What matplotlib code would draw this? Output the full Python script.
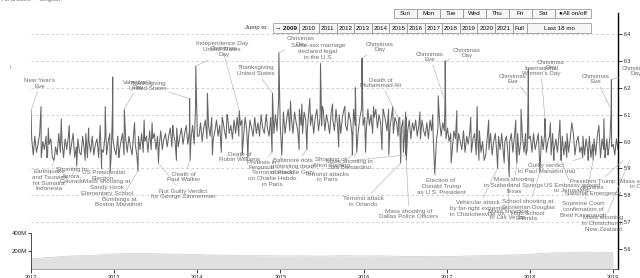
import numpy as np
import pandas as pd
import matplotlib
matplotlib.use('Agg')
import matplotlib.pyplot as plt
import matplotlib.dates as mdates
from matplotlib.patches import Rectangle

W, H = 640, 278
plt.rcParams['font.family'] = ['Liberation Sans', 'DejaVu Sans']

# ---------------- data ----------------
base_start = '2012-01-04'
base_2012 = [6.01, 5.95, 6.02, 5.96, 5.99, 6.03, 5.94, 6.00, 5.97, 6.02, 5.95, 5.99, 6.01, 5.94, 6.02, 5.98, 5.95, 6.03,
             5.96, 6.00, 5.94, 6.01, 5.97, 6.02, 5.95, 5.99, 6.03, 5.94, 5.98, 6.01, 5.96, 5.95, 6.02, 5.97, 6.03, 5.94,
             6.00, 5.96, 6.02, 5.95, 5.99, 6.01, 5.94, 6.03, 5.97, 5.96, 6.02, 5.95, 6.00, 6.03, 5.96, 6.01, 5.97]
base_2013 = [5.95, 6.02, 5.96, 6.00, 6.03, 5.95, 6.01, 5.96, 6.02, 5.98, 5.95, 6.03, 5.99, 5.95, 6.02, 5.97, 6.03, 5.96,
             6.00, 6.02, 5.96, 6.04, 5.97, 6.01, 6.03, 5.97, 6.02, 5.98, 6.04, 5.97, 6.01, 6.03, 5.98, 6.02, 6.05, 5.98,
             6.03, 6.00, 6.05, 5.98, 6.02, 6.05, 5.99, 6.03, 6.06, 5.99, 6.04, 6.01, 6.06, 5.99, 6.03, 6.02]
base_2014 = [6.02, 6.07, 6.00, 6.05, 6.08, 6.01, 6.06, 6.02, 6.09, 6.01, 6.04, 6.08, 6.02, 6.06, 6.00, 6.08, 6.04, 6.01,
             6.09, 6.03, 6.06, 6.01, 6.08, 6.03, 6.09, 6.02, 6.06, 6.08, 6.02, 6.09, 6.04, 6.01, 6.08, 6.05, 6.02, 6.09,
             6.03, 6.07, 6.02, 6.10, 6.05, 6.03, 6.09, 6.05, 6.02, 6.09, 6.06, 6.03, 6.10, 6.04, 6.08, 6.06]
base_2015 = [6.05, 6.11, 6.03, 6.08, 6.12, 6.04, 6.09, 6.03, 6.11, 6.07, 6.04, 6.12, 6.06, 6.03, 6.11, 6.08, 6.04, 6.12,
             6.06, 6.10, 6.03, 6.09, 6.12, 6.04, 6.09, 6.06, 6.12, 6.04, 6.10, 6.07, 6.03, 6.11, 6.08, 6.04, 6.12, 6.06,
             6.10, 6.03, 6.09, 6.12, 6.06, 6.04, 6.11, 6.08, 6.03, 6.12, 6.06, 6.10, 6.04, 6.09, 6.12, 6.06]
base_2016 = [6.09, 6.04, 6.12, 6.06, 6.10, 6.03, 6.09, 6.12, 6.05, 6.10, 6.07, 6.03, 6.11, 6.08, 6.04, 6.12, 6.06, 6.10,
             6.03, 6.09, 6.07, 6.02, 6.09, 6.05, 6.08, 6.02, 6.09, 6.04, 6.08, 6.01, 6.07, 6.04, 6.08, 6.02, 6.06, 6.01,
             6.08, 6.04, 6.02, 6.07, 6.01, 6.08, 6.04, 6.02, 6.07, 6.00, 6.05, 6.08, 6.02, 6.07, 6.04, 6.01]
base_2017 = [6.05, 6.00, 6.03, 5.97, 6.04, 6.01, 5.96, 6.03, 6.00, 5.97, 6.04, 5.96, 6.02, 5.99, 6.04, 5.96, 6.01, 6.03,
             5.95, 6.01, 6.04, 5.96, 6.00, 6.03, 5.95, 6.02, 5.97, 6.03, 5.95, 6.00, 6.03, 5.95, 6.02, 5.97, 6.03, 5.96,
             6.00, 6.02, 5.95, 6.00, 6.03, 5.96, 6.02, 5.97, 6.03, 5.95, 6.00, 6.02, 5.96, 6.03, 5.97, 6.01]
base_2018 = [6.02, 5.96, 6.03, 5.97, 6.00, 6.03, 5.95, 6.02, 5.97, 6.03, 5.96, 6.00, 6.02, 5.95, 6.03, 5.97, 6.01, 5.96,
             6.03, 5.97, 6.02, 5.95, 6.00, 6.03, 5.96, 6.01, 5.97, 6.03, 5.95, 6.00, 6.02, 5.96, 5.98, 6.02, 5.95, 6.01,
             5.96, 6.02, 5.94, 5.99, 6.01, 5.95, 6.02, 5.96, 5.94, 6.01, 5.97, 5.95, 6.01, 5.96, 6.02, 5.98]
base_2019 = [5.99, 5.95, 6.01, 5.97]

spike_dates = ['2012-01-01', '2012-02-14', '2012-03-17', '2012-05-13', '2012-06-17', '2012-09-10', '2012-10-31',
               '2012-11-22', '2012-12-24', '2012-12-25', '2013-02-14', '2013-03-31', '2013-05-12', '2013-06-16',
               '2013-09-15', '2013-11-28', '2013-12-24', '2013-12-25', '2014-02-14', '2014-04-20', '2014-05-11',
               '2014-07-04', '2014-10-31', '2014-11-27', '2014-12-24', '2014-12-25', '2015-02-14', '2015-04-05',
               '2015-05-10', '2015-06-26', '2015-07-04', '2015-08-18', '2015-10-11', '2015-11-26', '2015-12-24',
               '2015-12-25', '2016-02-14', '2016-03-27', '2016-05-08', '2016-06-03', '2016-07-04', '2016-09-05',
               '2016-10-31', '2016-11-24', '2016-12-24', '2016-12-25', '2017-02-14', '2017-04-16', '2017-05-14',
               '2017-07-04', '2017-10-31', '2017-11-23', '2017-12-24', '2017-12-25', '2018-03-08', '2018-04-01',
               '2018-05-13', '2018-07-04', '2018-10-31', '2018-11-22', '2018-12-24', '2018-12-25']
spike_values = [6.115, 6.13, 6.05, 6.085, 6.06, 6.05, 6.06,
                6.13, 6.12, 6.24, 6.12, 6.07, 6.08, 6.07,
                6.06, 6.16, 6.13, 6.28, 6.18, 6.09, 6.10,
                6.115, 6.10, 6.18, 6.16, 6.33, 6.15, 6.14,
                6.16, 6.29, 6.13, 6.14, 6.13, 6.20, 6.16,
                6.31, 6.13, 6.12, 6.13, 6.085, 6.11, 6.11,
                6.10, 6.17, 6.15, 6.30, 6.115, 6.09, 6.13,
                6.08, 6.08, 6.12, 6.17, 6.27, 6.085, 6.07,
                6.08, 6.07, 6.06, 6.085, 6.12, 6.23]

dip_dates = ['2012-03-11', '2012-04-11', '2012-07-20', '2012-08-26', '2012-11-06', '2012-12-14', '2013-01-21',
             '2013-04-15', '2013-07-14', '2013-10-01', '2013-11-30', '2014-03-08', '2014-04-16', '2014-07-17',
             '2014-08-11', '2014-11-25', '2015-01-07', '2015-03-24', '2015-04-27', '2015-09-14', '2015-11-13',
             '2015-12-02', '2016-01-10', '2016-03-22', '2016-04-21', '2016-06-12', '2016-06-24', '2016-07-05',
             '2016-07-07', '2016-11-09', '2017-01-20', '2017-05-22', '2017-06-14', '2017-08-12', '2017-09-10',
             '2017-10-02', '2017-11-05', '2017-12-15', '2018-02-14', '2018-04-16', '2018-05-18', '2018-06-12',
             '2018-08-21', '2018-09-14', '2018-10-06', '2018-11-06', '2018-11-27', '2018-12-10']
dip_values = [5.94, 5.93, 5.91, 5.93, 5.90, 5.89, 5.94,
              5.89, 5.92, 5.93, 5.93, 5.95, 5.96, 5.95,
              5.94, 5.96, 5.95, 5.97, 5.97, 5.98, 5.95,
              5.96, 5.96, 5.97, 5.95, 5.92, 5.96, 5.95,
              5.93, 5.88, 5.92, 5.93, 5.93, 5.90, 5.92,
              5.87, 5.92, 5.95, 5.89, 5.93, 5.93, 5.94,
              5.94, 5.93, 5.93, 5.95, 5.94, 5.95]

vol_start = '2012-01-01'
vol_millions = [112, 118, 125, 130, 138, 142, 145, 148, 150, 152, 158, 165,
                168, 170, 172, 175, 174, 172, 170, 168, 166, 165, 164, 162,
                160, 158, 156, 155, 154, 152, 150, 150, 149, 148, 148, 147,
                146, 145, 146, 147, 145, 144, 143, 145, 146, 148, 147, 146,
                145, 146, 147, 145, 144, 142, 140, 139, 140, 141, 142, 140,
                138, 140, 142, 144, 146, 148, 150, 152, 154, 156, 158, 160,
                165, 170, 174, 178, 180, 182, 184, 186, 188, 186, 185, 184,
                186]

year_labels = ['2012', '2013', '2014', '2015', '2016', '2017', '2018', '2019']
right_ticks = [5.6, 5.7, 5.8, 5.9, 6.0, 6.1, 6.2, 6.3, 6.4]
vol_ticks = [200e6, 400e6]
vol_tick_labels = ['200M', '400M']

day_buttons = ['Sun', 'Mon', 'Tue', 'Wed', 'Thu', 'Fri', 'Sat', '\u25cfAll on/off']
year_buttons = ['\u2192 2009', '2010', '2011', '2012', '2013', '2014', '2015', '2016', '2017', '2018', '2019',
                '2020', '2021', 'Full', 'Last 18 mo']

# label text, centre x (px), first-line y (px), target date
annotations = [
    ("New Year's\nEve", 40, 82, '2012-01-01'),
    ("Valentine's\nDay", 138, 83, '2013-02-14'),
    ("Thanksgiving\nUnited States", 148, 84, '2013-11-28'),
    ("Independence Day\nUnited States", 222, 45, '2014-07-04'),
    ("Christmas\nDay", 224, 50, '2013-12-25'),
    ("Thanksgiving\nUnited States", 256, 69, '2014-11-27'),
    ("Christmas\nDay", 301, 40, '2014-12-25'),
    ("Same-sex marriage\ndeclared legal\nin the U.S.", 318, 47, '2015-06-26'),
    ("Christmas\nDay", 380, 45, '2015-12-25'),
    ("Death of\nMuhammad Ali", 381, 81, '2016-06-03'),
    ("Christmas\nEve", 430, 55, '2016-12-24'),
    ("Christmas\nDay", 467, 51, '2016-12-25'),
    ("Christmas\nEve", 513, 77, '2017-12-24'),
    ("International\nWomen's Day", 541, 69, '2018-03-08'),
    ("Christmas\nDay", 551, 63, '2017-12-25'),
    ("Christmas\nEve", 596, 77, '2018-12-24'),
    ("Christmas\nDay", 636, 69, '2018-12-25'),
    ("Earthquake\nand Tsunami\nhit Sumatra\nIndonesia", 49, 173, '2012-04-11'),
    ("Shooting in\nAurora,\nColorado", 72, 171, '2012-07-20'),
    ("US Presidential\nElection", 103, 174, '2012-11-06'),
    ("Mass shooting at\nSandy Hook\nElementary School", 107, 183, '2012-12-14'),
    ("Bombings at\nBoston Marathon", 119, 200, '2013-04-15'),
    ("Death of\nPaul Walker", 184, 175, '2013-11-30'),
    ("Not Guilty Verdict\nfor George Zimmerman", 183, 192, '2013-07-14'),
    ("Death of\nRobin Williams", 240, 155, '2014-08-11'),
    ("Protests in\nFerguson", 262, 163, '2014-11-25'),
    ("Baltimore riots\nprotesting death\nof Freddie Gray", 293, 162, '2015-04-27'),
    ("Terrorist attack\non Charlie Hebdo\nin Paris", 272, 174, '2015-01-07'),
    ("Shooting of\nAlton Sterling", 331, 161, '2016-07-05'),
    ("Mass shooting in\nSan Bernardino", 349, 163, '2015-12-02'),
    ("Terrorist attacks\nin Paris", 327, 175, '2015-11-13'),
    ("Terrorist attack\nin Orlando", 363, 200, '2016-06-12'),
    ("Mass shooting of\nDallas Police Officers", 409, 212, '2016-07-07'),
    ("Election of\nDonald Trump\nas U.S. President", 441, 182, '2016-11-09'),
    ("Vehicular attack\nby far-right extremist\nin Charlottesville VA", 478, 204, '2017-08-12'),
    ("Mass shooting\nin Las Vegas", 508, 213, '2017-10-02'),
    ("Mass shooting\nin Sutherland Springs\nTexas", 514, 181, '2017-11-05'),
    ("School shooting at\nStoneman Douglas\nHigh School\nFlorida", 528, 203, '2018-02-14'),
    ("Guilty verdict\nin Paul Manafort trial", 546, 167, '2018-08-21'),
    ("US Embassy moved\nto Jerusalem", 572, 186, '2018-05-18'),
    ("Supreme Court\nconfirmation of\nBrett Kavanaugh", 583, 205, '2018-10-06'),
    ("President Trump\ndeclares\nNational Emergency", 593, 183, '2019-02-15'),
    ("Mass shooting\nin Christchurch\nNew Zealand", 603, 219, '2019-03-15'),
    ("Mass shooting\nin Ohio", 640, 182, '2019-08-04'),
]

# ---------------- build series ----------------
base_values = base_2012 + base_2013 + base_2014 + base_2015 + base_2016 + base_2017 + base_2018 + base_2019
base = pd.Series(base_values, index=pd.date_range(base_start, periods=len(base_values), freq='7D'))
spikes = pd.Series(spike_values, index=pd.to_datetime(spike_dates))
dips = pd.Series(dip_values, index=pd.to_datetime(dip_dates))
series = pd.concat([base, spikes, dips])
series = series[~series.index.duplicated(keep='last')].sort_index()

vol = pd.Series(np.array(vol_millions) * 1e6, index=pd.date_range(vol_start, periods=len(vol_millions), freq='MS'))

# ---------------- figure ----------------
fig = plt.figure(figsize=(W / 100, H / 100), dpi=100)


def fbox(x0, y0, x1, y1):
    return [x0 / W, 1 - y1 / H, (x1 - x0) / W, (y1 - y0) / H]


xmin = mdates.date2num(pd.Timestamp('2012-01-01'))
xmax = mdates.date2num(pd.Timestamp('2019-01-23'))

ax = fig.add_axes(fbox(31, 13, 618, 269))
ax.set_xlim(xmin, xmax)
ax.set_ylim(5.526, 6.478)
ax.patch.set_alpha(0)

for v in right_ticks:
    if v >= 5.7:
        ax.axhline(v, color='#c8c8c8', lw=0.6, ls=(0, (3, 3)), zorder=0)

ax.plot(mdates.date2num(series.index), series.values, color='#666666', lw=0.75, zorder=2)

for s in ['left', 'top']:
    ax.spines[s].set_visible(False)
ax.spines['right'].set_color('black')
ax.spines['right'].set_linewidth(1.0)
ax.spines['bottom'].set_color('#555')
ax.spines['bottom'].set_linewidth(0.6)
ax.yaxis.tick_right()
ax.set_yticks(right_ticks)
ax.set_yticklabels([f'{v:.1f}' for v in right_ticks])
ax.tick_params(axis='y', direction='out', length=3, width=0.6, labelsize=3.8, pad=1.5, colors='#222')
ax.set_xticks([mdates.date2num(pd.Timestamp(y + '-01-01')) for y in year_labels])
ax.set_xticklabels(year_labels)
ax.tick_params(axis='x', direction='out', length=3, width=0.6, labelsize=4, pad=1, colors='#222')

# volume panel
vax = fig.add_axes(fbox(31, 233, 618, 269))
vax.set_xlim(xmin, xmax)
vax.set_ylim(0, 400e6)
vax.patch.set_alpha(0)
vx = mdates.date2num(vol.index)
vax.fill_between(vx, 0, vol.values, color='#e0e0e0', lw=0)
vax.plot(vx, vol.values, color='#cfcfcf', lw=0.5)
for s in ['right', 'top', 'bottom']:
    vax.spines[s].set_visible(False)
vax.spines['left'].set_linewidth(0.6)
vax.spines['left'].set_color('#333')
vax.set_xticks([])
vax.set_yticks(vol_ticks)
vax.set_yticklabels(vol_tick_labels)
vax.tick_params(axis='y', length=2, width=0.6, labelsize=4.3, pad=1, colors='#222')

# annotations
for text, cx, cy, d in annotations:
    t = pd.Timestamp(d)
    if t in series.index:
        val = series[t]
    else:
        val = 5.93
    ax.annotate(text, xy=(mdates.date2num(t), val), xycoords='data',
                xytext=(cx, H - cy + 3.5), textcoords='figure pixels',
                ha='center', va='top', fontsize=4.5, color='#707070', linespacing=1.15,
                arrowprops=dict(arrowstyle='-', color='#aaaaaa', lw=0.4, shrinkA=0, shrinkB=0),
                annotation_clip=False, zorder=3)


# buttons
def button(x0, x1, y0, y1, label, bold=False):
    fig.add_artist(Rectangle((x0 / W, 1 - y1 / H), (x1 - x0) / W, (y1 - y0) / H,
                             transform=fig.transFigure, facecolor='#f6f6f6', edgecolor='#8a8a8a', lw=0.5))
    fig.text((x0 + x1) / 2 / W, 1 - (y0 + y1) / 2 / H, label, ha='center', va='center',
             fontsize=4.5, color='#111', fontweight='bold' if bold else 'normal')


day_edges = [394, 417, 440, 463, 486, 509, 532, 555, 591]
for i, lab in enumerate(day_buttons):
    button(day_edges[i], day_edges[i + 1], 9, 18, lab)

year_edges = [273, 299, 319, 336.6, 354.2, 371.8, 389.4, 407, 424.6, 442.2, 459.8, 477.4, 495, 512.6, 527, 591]
for i, lab in enumerate(year_buttons):
    button(year_edges[i], year_edges[i + 1], 23, 33, lab, bold=(i == 0))

fig.text(268 / W, 1 - 28 / H, 'Jump to:', ha='right', va='center', fontsize=4.3, color='#333')
fig.text(2 / W, 1 - 0 / H, 'All articles \u2192 English', ha='left', va='center', fontsize=4.5, color='#666')
fig.text(10 / W, 1 - 67 / H, '|', ha='center', va='center', fontsize=3, color='#555')

fig.savefig('out.png', dpi=100)
